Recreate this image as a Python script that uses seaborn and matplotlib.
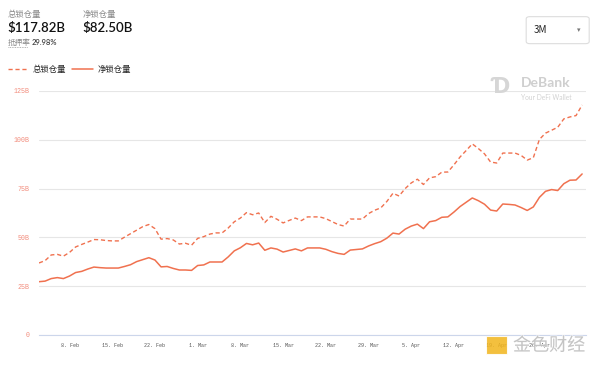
import seaborn as sns
import pandas as pd
import matplotlib.pyplot as plt
import matplotlib.patheffects as pe
from matplotlib.lines import Line2D
from matplotlib.patches import FancyBboxPatch, Rectangle

sns.set_style('white')
plt.rcParams['font.family'] = ['Noto Sans CJK SC', 'DejaVu Sans']

# daily values, 2021-02-03 .. 2021-05-03, in billions USD
dates = pd.date_range('2021-02-03', '2021-05-03', freq='D')
total_locked = [36.9, 38.1, 41.0, 41.3, 40.4, 42.3, 45.1, 46.4, 47.6, 48.9,
                48.8, 48.4, 48.2, 48.2, 50.1, 51.9, 53.7, 55.5, 56.6, 54.5,
                49.1, 49.4, 48.7, 46.6, 47.0, 46.0, 49.5, 50.4, 51.7, 52.3,
                52.3, 54.8, 58.0, 59.9, 62.7, 61.6, 62.5, 57.6, 60.8, 59.3,
                57.4, 58.7, 59.9, 58.6, 60.5, 60.5, 60.5, 59.6, 58.1, 56.6,
                55.8, 59.4, 59.4, 59.4, 62.2, 63.9, 65.1, 68.4, 72.6, 71.2,
                75.0, 77.9, 79.8, 77.1, 80.5, 81.1, 83.4, 83.5, 87.2, 91.2,
                94.5, 97.9, 95.5, 92.8, 88.6, 88.1, 93.2, 93.2, 93.2, 92.0,
                89.6, 90.8, 100.2, 103.4, 104.9, 106.4, 110.7, 111.7, 112.4, 117.82]
net_locked = [27.3, 27.6, 28.9, 29.4, 28.9, 30.2, 32.0, 32.6, 33.8, 34.8,
              34.5, 34.3, 34.3, 34.3, 35.1, 36.0, 37.6, 38.6, 39.6, 38.4,
              34.9, 35.1, 34.1, 33.3, 33.3, 33.1, 35.6, 35.9, 37.4, 37.4,
              37.4, 40.0, 43.1, 44.7, 46.9, 46.2, 47.1, 43.4, 44.6, 44.0,
              42.5, 43.3, 44.1, 43.1, 44.6, 44.6, 44.6, 43.9, 42.7, 41.8,
              41.3, 43.5, 43.8, 44.1, 45.6, 46.8, 47.8, 49.6, 52.2, 51.7,
              54.2, 55.8, 56.8, 54.5, 58.0, 58.6, 60.3, 60.5, 63.0, 65.8,
              68.0, 70.2, 68.8, 67.0, 64.0, 63.5, 67.1, 66.9, 66.6, 65.3,
              63.8, 65.6, 70.5, 73.6, 74.5, 74.0, 77.5, 79.3, 79.4, 82.50]
series_names = ['总锁仓量', '净锁仓量']
y_ticks = [0, 25, 50, 75, 100, 125]
y_tick_labels = ['0', '25B', '50B', '75B', '100B', '125B']
x_tick_dates = pd.to_datetime(['2021-02-08', '2021-02-15', '2021-02-22', '2021-03-01',
                               '2021-03-08', '2021-03-15', '2021-03-22', '2021-03-29',
                               '2021-04-05', '2021-04-12', '2021-04-19', '2021-04-26',
                               '2021-05-03'])
x_tick_labels = ['8. Feb', '15. Feb', '22. Feb', '1. Mar', '8. Mar', '15. Mar',
                 '22. Mar', '29. Mar', '5. Apr', '12. Apr', '19. Apr', '26. Apr', '']

line_color = '#F0714F'
df = pd.DataFrame({'date': dates, 'total': total_locked, 'net': net_locked})

fig = plt.figure(figsize=(6, 3.7), dpi=100)
ax = fig.add_axes([0.065, 0.0946, 0.912, 0.6595])

sns.lineplot(data=df, x='date', y='total', ax=ax, color=line_color, lw=1.0,
             linestyle=(0, (3, 2)))
sns.lineplot(data=df, x='date', y='net', ax=ax, color=line_color, lw=1.1)

ax.set_ylim(0, 125)
ax.set_xlim(dates[0], dates[-1] + pd.Timedelta(hours=16))
ax.set_yticks(y_ticks)
ax.set_yticklabels(y_tick_labels, color='#F28C7C', fontsize=4.8,
                   family=['Liberation Mono', 'DejaVu Sans'])
ax.set_xticks(x_tick_dates)
ax.set_xticklabels(x_tick_labels, color='#555555', fontsize=3.6,
                   family=['Liberation Mono', 'DejaVu Sans'])
ax.set_xlabel('')
ax.set_ylabel('')
ax.grid(axis='y', color='#E6E6E6', lw=0.8)
ax.grid(axis='x', visible=False)
for s in ['top', 'right', 'left']:
    ax.spines[s].set_visible(False)
ax.spines['bottom'].set_color('#CCD6EB')
ax.spines['bottom'].set_linewidth(0.8)
ax.tick_params(axis='x', length=4, width=0.7, color='#CCD6EB', pad=2)
ax.tick_params(axis='y', length=0, pad=7)

# header
fig.text(0.013, 0.962, '总锁仓量', fontsize=6, color='#888888', va='center')
fig.text(0.013, 0.925, '$117.82B', fontsize=9.5, color='#111111', va='center',
         weight='semibold', family=['Lato', 'DejaVu Sans'])
fig.text(0.138, 0.962, '净锁仓量', fontsize=6, color='#888888', va='center')
fig.text(0.138, 0.925, '$82.50B', fontsize=9.5, color='#111111', va='center',
         weight='semibold', family=['Lato', 'DejaVu Sans'])
fig.text(0.013, 0.885, '抵押率', fontsize=5.5, color='#888888', va='center')
fig.add_artist(Line2D([0.013, 0.046], [0.872, 0.872], color='#999999', lw=0.6,
                      linestyle=(0, (1, 1))))
fig.text(0.053, 0.885, '29.98%', fontsize=5.5, color='#444444', va='center',
         weight='semibold', family=['Lato', 'DejaVu Sans'])

# legend
fig.add_artist(Line2D([0.013, 0.047], [0.813, 0.813], color=line_color, lw=1.0,
                      linestyle=(0, (3, 2))))
fig.text(0.055, 0.813, series_names[0], fontsize=6, color='#222222', va='center')
fig.add_artist(Line2D([0.12, 0.155], [0.813, 0.813], color=line_color, lw=1.1))
fig.text(0.162, 0.813, series_names[1], fontsize=6, color='#222222', va='center')

# period selector
fig.add_artist(FancyBboxPatch((0.877, 0.882), 0.105, 0.073,
                              boxstyle='round,pad=0,rounding_size=0.006',
                              transform=fig.transFigure, facecolor='white',
                              edgecolor='#DDDDDD', lw=0.8))
fig.text(0.89, 0.918, '3M', fontsize=7, color='#222222', va='center')
fig.text(0.965, 0.918, '▾', fontsize=5, color='#777777', va='center', ha='center')

# watermarks
fig.text(0.835, 0.765, 'Ɗ', fontsize=15, color='#D6D6D6', va='center', ha='center',
         weight='bold')
fig.text(0.868, 0.775, 'DeBank', fontsize=10, color='#CFCFCF', va='center',
         weight='bold', family=['Lato', 'DejaVu Sans'])
fig.text(0.868, 0.737, 'Your DeFi Wallet', fontsize=4.8, color='#D2D2D2', va='center',
         family=['Lato', 'DejaVu Sans'])
fig.add_artist(Rectangle((0.81, 0.042), 0.035, 0.05, transform=fig.transFigure,
                         facecolor='#F2B51C', edgecolor='white', lw=0.8, alpha=0.85))
fig.text(0.855, 0.066, '金色财经', fontsize=13, color='#B8B8B8', va='center',
         alpha=0.75, path_effects=[pe.withStroke(linewidth=1.2, foreground='white',
                                                 alpha=0.6)])

plt.savefig('out.png', dpi=100)
